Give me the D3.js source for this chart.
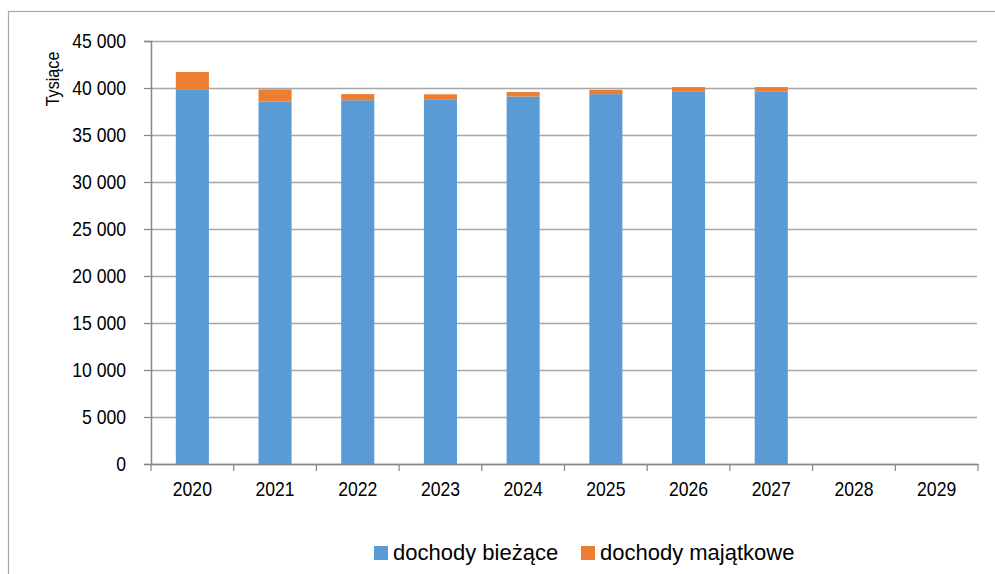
<!DOCTYPE html>
<html>
<head>
<meta charset="utf-8">
<script src="https://cdn.jsdelivr.net/npm/d3@7"></script>
<style>
  body { margin: 0; background: #fff; }
  svg { display: block; font-family: "Liberation Sans", Arial, sans-serif; }
</style>
</head>
<body>
<div id="chart"></div>
<script>
const years = ["2020", "2021", "2022", "2023", "2024", "2025", "2026", "2027", "2028", "2029"];
const biezace = [39800, 38550, 38700, 38800, 39100, 39350, 39600, 39600, 0, 0];
const majatkowe = [1900, 1300, 650, 530, 470, 460, 500, 500, 0, 0];
const yTicks = [0, 5000, 10000, 15000, 20000, 25000, 30000, 35000, 40000, 45000];
const seriesNames = ["dochody bieżące", "dochody majątkowe"];
const colors = ["#5B9BD5", "#ED7D31"];

const width = 995;
const height = 574;
const narrow = 0.88; // labels in the original use a narrow face

const svg = d3.select("#chart")
    .append("svg")
        .attr("width", width)
        .attr("height", height);

// outer frame
svg.append("rect")
    .attr("x", 8.5).attr("y", 11.5)
    .attr("width", width).attr("height", height)
    .attr("fill", "none")
    .attr("stroke", "#a6a6a6")
    .attr("stroke-width", 1.2);

const x = d3.scaleBand()
    .domain(years)
    .range([151, 978])
    .paddingInner(0.6)
    .paddingOuter(0.3);

const y = d3.scaleLinear()
    .domain([0, 45000])
    .range([464, 41]);

const fmt = d3.formatLocale({ decimal: ",", thousands: "\u00a0", grouping: [3], currency: ["", ""] }).format(",");

// gridlines
svg.append("g")
    .attr("class", "grid")
    .attr("transform", "translate(151,0)")
    .call(d3.axisLeft(y).tickValues(yTicks).tickSize(-826).tickFormat(""))
    .call(g => g.select(".domain").remove())
    .call(g => g.selectAll("line")
        .attr("stroke", "#a6a6a6")
        .attr("stroke-width", 1.5));

// data rows for stacking
const rows = years.map((yr, i) => ({ year: yr, b: biezace[i], m: majatkowe[i] }));
const stacked = d3.stack().keys(["b", "m"])(rows);

svg.append("g")
    .selectAll("g")
    .data(stacked)
    .join("g")
        .attr("fill", (d, i) => colors[i])
    .selectAll("rect")
    .data(d => d)
    .join("rect")
        .attr("x", d => x(d.data.year))
        .attr("y", d => y(d[1]))
        .attr("width", x.bandwidth())
        .attr("height", d => y(d[0]) - y(d[1]));

// y axis
svg.append("g")
    .attr("transform", "translate(151,0)")
    .call(d3.axisLeft(y).tickValues(yTicks).tickSize(7).tickPadding(9).tickFormat(fmt))
    .call(g => g.select(".domain").attr("stroke", "#868686").attr("stroke-width", 1.5))
    .call(g => g.selectAll(".tick line").attr("stroke", "#868686").attr("stroke-width", 1.2))
    .call(g => g.selectAll("text")
        .attr("fill", "#000")
        .attr("x", -25 / narrow)
        .attr("transform", "scale(" + narrow + ",1)")
        .style("font-size", "20px")
        .style("font-family", "'Liberation Sans', Arial, sans-serif"));

// x axis labels
svg.append("g")
    .attr("transform", "translate(0,464)")
    .call(d3.axisBottom(x).tickSize(0).tickPadding(18))
    .call(g => g.select(".domain").attr("stroke", "#868686").attr("stroke-width", 1.5))
    .call(g => g.selectAll("text")
        .attr("fill", "#000")
        .attr("transform", "scale(" + narrow + ",1)")
        .style("font-size", "20px")
        .style("font-family", "'Liberation Sans', Arial, sans-serif"));

// x axis boundary ticks
const bounds = d3.range(years.length + 1);
svg.append("g")
    .selectAll("line")
    .data(bounds)
    .join("line")
        .attr("x1", i => 151 + i * x.step())
        .attr("x2", i => 151 + i * x.step())
        .attr("y1", 464)
        .attr("y2", 471)
        .attr("stroke", "#868686")
        .attr("stroke-width", 1.2);

// y axis title
svg.append("text")
    .attr("transform", "translate(59,79) rotate(-90) scale(0.85,1)")
    .attr("text-anchor", "middle")
    .style("font-size", "19px")
    .text("Tysiące");

// legend
const legendX = [374, 581];
const legend = svg.append("g")
    .selectAll("g")
    .data(seriesNames)
    .join("g")
        .attr("transform", (d, i) => "translate(" + legendX[i] + ",546)");

legend.append("rect")
    .attr("width", 14)
    .attr("height", 14)
    .attr("fill", (d, i) => colors[i]);

legend.append("text")
    .attr("x", 19)
    .attr("y", 14)
    .style("font-size", "22px")
    .text(d => d);
</script>
</body>
</html>
